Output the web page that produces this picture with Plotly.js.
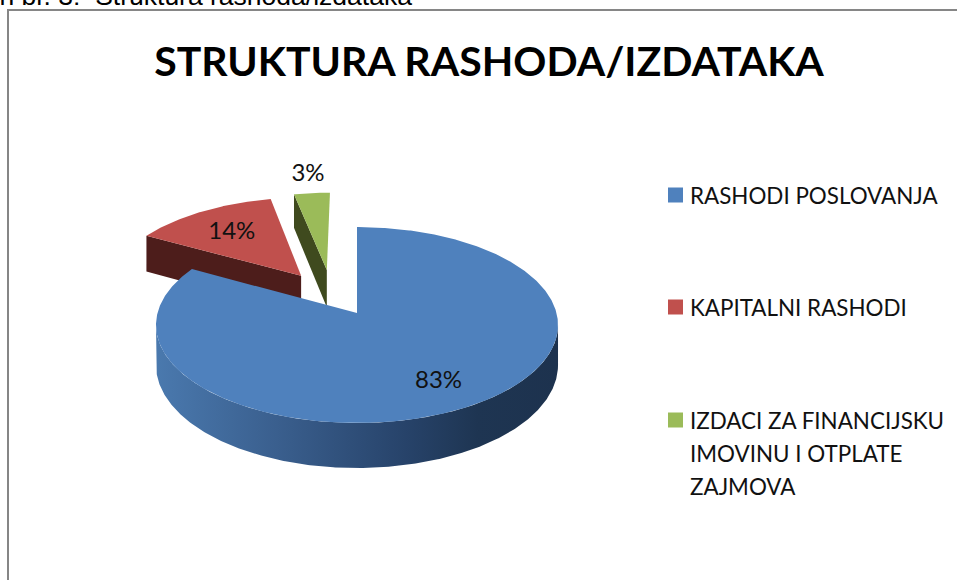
<!DOCTYPE html>
<html>
<head>
<meta charset="utf-8">
<script src="https://cdn.plot.ly/plotly-3.0.1.min.js"></script>
<style>html,body{margin:0;padding:0;background:#fff;overflow:hidden}#chart{width:957px;height:580px}</style>
</head>
<body>
<div id="chart"></div>
<script>
// --- Data ---
const categories = ['RASHODI POSLOVANJA', 'KAPITALNI RASHODI', 'IZDACI ZA FINANCIJSKU IMOVINU I OTPLATE ZAJMOVA'];
const values = [83, 13.6, 3.4];
const legendLines = [['RASHODI POSLOVANJA'], ['KAPITALNI RASHODI'], ['IZDACI ZA FINANCIJSKU', 'IMOVINU I OTPLATE', 'ZAJMOVA']];
const chartTitle = 'STRUKTURA RASHODA/IZDATAKA';
const caption = 'Grafikon br. 3:  Struktura rashoda/izdataka';

// --- Styles and geometry ---
const topColors = ['#4f81bd', '#c0504d', '#9bbb59'];
const cutColors = ['#1f3552', '#4d1d1b', '#3f4a1e'];
const pullU = [0, -0.294, -0.16];
const pullV = [0, 0.405, 0.471];
const labelRadius = [0.74, 0.68, 1.3];
const legendRowY = [195, 307, 420];
const font = 'Lato, Carlito, sans-serif';
const A = 199.5, B = 96.5, K = 0.1226, CX = 357, CY = 313, DEPTH = 39.5, LABEL_DROP = 2;

// Perspective projection of the pie plane onto the axes
function project(u, v, down) {
  const w = 1 + K * v;
  return [CX + A * u / w, CY - B * v / w + (down ? DEPTH / w : 0)];
}
function rimPoint(deg, r, i, down) {
  const t = deg * Math.PI / 180;
  return project(pullU[i] + r * Math.sin(t), pullV[i] + r * Math.cos(t), down);
}
function arc(from, to, i, down) {
  const pts = [], n = Math.max(2, Math.ceil(Math.abs(to - from) * 2));
  for (let s = 0; s <= n; s++) pts.push(rimPoint(from + (to - from) * s / n, 1, i, down));
  return pts;
}
function poly(pts, color, name, extra) {
  return Object.assign({
    type: 'scatter', mode: 'lines', x: pts.map(p => p[0]), y: pts.map(p => p[1]),
    fill: 'toself', fillcolor: color, line: {width: 0, color: color},
    name: name, hoverinfo: 'name', showlegend: false
  }, extra || {});
}

const total = values.reduce((a, b) => a + b, 0);
let cum = 0;
const slices = values.map((v, i) => {
  const start = cum / total * 360; cum += v;
  return {i, start, end: cum / total * 360, mid: (start + cum / total * 360) / 2, pct: Math.round(v / total * 100) + '%'};
});

const traces = [];
// Exploded slices behind the main one: cut face, then top
[1, 2].forEach(i => {
  const s = slices[i];
  traces.push(poly([rimPoint(s.start, 1, i), rimPoint(0, 0, i), rimPoint(0, 0, i, true), rimPoint(s.start, 1, i, true)], cutColors[i], categories[i]));
  traces.push(poly([rimPoint(0, 0, i)].concat(arc(s.start, s.end, i)), topColors[i], categories[i]));
});
// Main slice: outer wall with gradient, then top
const wallFrom = 97, wallTo = 263;
traces.push(poly(arc(wallFrom, wallTo, 0).concat(arc(wallTo, wallFrom, 0, true)), '#2f5079', categories[0], {
  fillgradient: {type: 'horizontal', colorscale: [[0, '#4a79ae'], [0.3, '#3a5f8e'], [0.62, '#27436a'], [0.8, '#1e3552'], [1, '#1d324e']]}
}));
traces.push(poly([rimPoint(0, 0, 0)].concat(arc(slices[0].start, slices[0].end, 0)), topColors[0], categories[0]));

// Percent labels
const labelPts = slices.map(s => rimPoint(s.mid, labelRadius[s.i], s.i));
traces.push({
  type: 'scatter', mode: 'text', x: labelPts.map(p => p[0]), y: labelPts.map(p => p[1] + LABEL_DROP),
  text: slices.map(s => s.pct), textposition: 'middle center',
  textfont: {family: font, size: 24, color: '#111'}, hoverinfo: 'skip', showlegend: false
});
// Legend swatches
traces.push({
  type: 'scatter', mode: 'markers', x: legendRowY.map(() => 675.5), y: legendRowY,
  marker: {symbol: 'square', size: 15, color: topColors, line: {width: 0}},
  text: categories, hoverinfo: 'text', showlegend: false
});

const annotations = [];
legendLines.forEach((lines, i) => lines.forEach((line, j) => annotations.push({
  xref: 'x', yref: 'y', x: 688, y: legendRowY[i] + j * 33, text: line, showarrow: false,
  xanchor: 'left', yanchor: 'middle', font: {family: font, size: 22.4, color: '#111'}
})));
annotations.push({
  xref: 'x', yref: 'paper', x: 414, y: 1, yshift: 21, text: caption, showarrow: false, xanchor: 'right', yanchor: 'top',
  font: {family: 'Liberation Sans, Arial, sans-serif', size: 26.5, color: '#000'}
});

const layout = {
  width: 957, height: 580, margin: {l: 0, r: 0, t: 0, b: 0},
  paper_bgcolor: '#fff', plot_bgcolor: '#fff', showlegend: false,
  title: {text: chartTitle, x: 489 / 957, xanchor: 'center', y: 1 - 62 / 580, yanchor: 'middle', font: {family: font, size: 41, weight: 700, color: '#000'}},
  xaxis: {range: [0, 957], visible: false, fixedrange: true},
  yaxis: {range: [580, 0], visible: false, fixedrange: true},
  shapes: [{type: 'rect', xref: 'x', yref: 'y', x0: 8, y0: 10, x1: 1000, y1: 640, line: {color: '#868686', width: 2}, fillcolor: 'rgba(0,0,0,0)', layer: 'below'}],
  annotations: annotations
};
Plotly.newPlot('chart', traces, layout, {displayModeBar: false, staticPlot: true});
</script>
</body>
</html>
